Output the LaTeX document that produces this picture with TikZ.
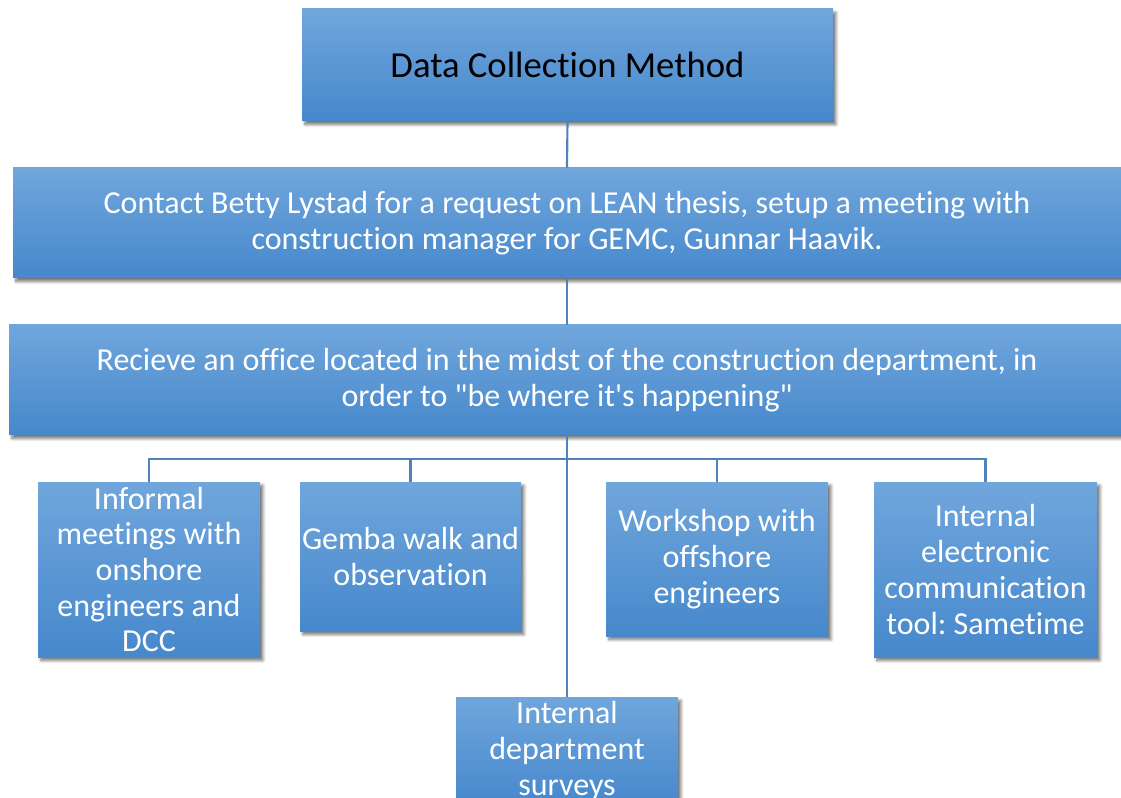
\documentclass[tikz,border=0pt]{standalone}
\usepackage{fontspec}
\setmainfont{Carlito}[Ligatures={NoCommon}]
\usetikzlibrary{shadows.blur}
\frenchspacing

\definecolor{boxtop}{RGB}{112,166,220}
\definecolor{boxmid}{RGB}{86,152,218}
\definecolor{boxbot}{RGB}{70,136,204}
\definecolor{linkblue}{RGB}{79,129,189}

\tikzset{
  pxbox/.style 2 args={
    rectangle, inner sep=0pt, align=center,
    minimum width=#1*0.75pt, minimum height=#2*0.75pt,
    top color=boxtop, middle color=boxmid, bottom color=boxbot,
    blur shadow={shadow xshift=2.2pt, shadow yshift=-2.6pt,
                 shadow blur steps=6, shadow blur radius=2.2pt,
                 shadow opacity=55},
    text=white, font=\fontsize{24}{26.8}\selectfont
  },
  titlebox/.style={text=black, font=\fontsize{27.5}{30}\selectfont},
  link/.style={draw=linkblue, line width=1.6pt}
}

\begin{document}
\begin{tikzpicture}[x=0.75pt,y=-0.75pt]
\useasboundingbox (0,0) rectangle (1121,798);

% top of the hierarchy
\node[pxbox={531}{112}, titlebox] (title) at (567.5,65) {Data Collection Method};
\node[pxbox={1108}{110}] (contact) at (567,223)
  {Contact Betty Lystad for a request on LEAN thesis, setup a meeting with\\
   construction manager for GEMC, Gunnar Haavik.};
\node[pxbox={1116}{110}] (office) at (567,380)
  {Recieve an office located in the midst of the construction department, in\\
   order to \textquotedbl be where it\textquotesingle s happening\textquotedbl};

% collection methods
\node[pxbox={222}{175}] (informal) at (149,569.5)
  {Informal\\meetings with\\onshore\\engineers and\\DCC};
\node[pxbox={221}{149}] (gemba) at (410.5,556.5)
  {Gemba walk and\\observation};
\node[pxbox={222}{154}] (workshop) at (717,559)
  {Workshop with\\offshore\\engineers};
\node[pxbox={223}{175}] (sametime) at (985.5,569.5)
  {Internal\\electronic\\communication\\tool: Sametime};
\node[pxbox={222}{108}] (surveys) at (567,751)
  {Internal\\department\\surveys};

% connectors
\coordinate (bus) at (0,459);
\draw[link] (title.south) -- (contact.north);
\draw[link] (contact.south) -- (office.north);
\draw[link] (office.south) -- (surveys.north);
\draw[link] (informal.north) -- (informal.north |- bus)
            -- (sametime.north |- bus) -- (sametime.north);
\draw[link] (gemba.north) -- (gemba.north |- bus);
\draw[link] (workshop.north) -- (workshop.north |- bus);
\end{tikzpicture}
\end{document}
